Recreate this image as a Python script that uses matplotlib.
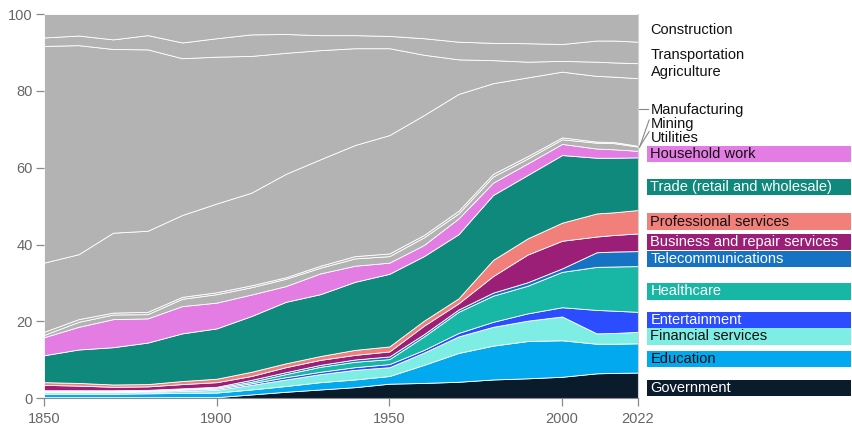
import matplotlib.pyplot as plt
from matplotlib.patches import Rectangle

years = [1850, 1860, 1870, 1880, 1890, 1900, 1910, 1920, 1930, 1940,
         1950, 1960, 1970, 1980, 1990, 2000, 2010, 2015, 2022]

# share of workers (%) per sector, bottom layer first
government = [0.3, 0.3, 0.3, 0.3, 0.3, 0.3, 1.0, 1.7, 2.3, 2.9, 3.8, 4.0, 4.3, 4.9, 5.2, 5.6, 6.5, 6.6, 6.7]
education = [0.9, 0.9, 0.9, 1.0, 1.1, 1.2, 1.3, 1.5, 1.9, 2.0, 2.0, 4.7, 7.5, 8.8, 9.7, 9.5, 7.7, 7.6, 7.6]
financial = [0.4, 0.4, 0.4, 0.4, 0.5, 0.7, 1.2, 1.7, 2.1, 2.5, 2.3, 3.2, 4.3, 4.9, 5.3, 6.2, 2.7, 2.8, 3.0]
entertainment = [0.2, 0.2, 0.2, 0.2, 0.3, 0.3, 0.4, 0.6, 0.6, 0.7, 0.8, 0.7, 0.9, 1.3, 1.9, 2.4, 6.1, 5.8, 5.2]
healthcare = [0.2, 0.2, 0.2, 0.2, 0.2, 0.3, 0.4, 0.8, 1.3, 1.4, 1.3, 3.5, 5.5, 6.8, 7.2, 9.2, 11.2, 11.5, 11.9]
telecom = [0.1, 0.1, 0.1, 0.1, 0.2, 0.2, 0.5, 0.5, 0.5, 0.6, 0.7, 0.6, 0.6, 0.8, 0.9, 0.9, 3.8, 3.9, 3.9]
business = [1.4, 1.2, 0.9, 0.9, 1.1, 1.2, 1.0, 1.3, 1.3, 1.2, 1.3, 2.2, 1.6, 4.3, 7.2, 7.2, 4.1, 4.3, 4.6]
professional = [0.7, 0.7, 0.6, 0.6, 0.8, 0.9, 1.1, 1.0, 1.0, 1.3, 1.3, 1.3, 1.3, 4.2, 4.2, 4.7, 6.0, 5.9, 6.1]
trade = [7.0, 8.7, 9.7, 10.8, 12.4, 13.1, 14.5, 16.0, 16.1, 17.7, 18.9, 16.8, 16.7, 16.9, 16.5, 17.6, 14.5, 14.2, 13.7]
household = [4.7, 5.9, 7.3, 6.3, 7.1, 6.7, 5.6, 4.1, 5.4, 4.2, 2.9, 2.9, 4.1, 3.2, 3.0, 2.9, 2.4, 2.2, 1.7]
utilities = [0.6, 1.3, 1.2, 1.1, 1.9, 2.2, 1.9, 1.9, 1.5, 1.9, 1.7, 2.0, 1.3, 1.6, 1.3, 1.2, 1.5, 1.6, 1.1]
mining = [0.8, 0.7, 0.5, 0.6, 0.5, 0.5, 0.5, 0.4, 0.5, 0.6, 0.7, 0.6, 0.7, 0.7, 0.6, 0.5, 0.3, 0.3, 0.2]
manufacturing = [18.0, 16.9, 20.8, 21.1, 21.3, 23.1, 24.1, 26.9, 27.7, 28.9, 30.8, 31.2, 30.4, 23.6, 20.5, 17.1, 17.1, 17.0, 17.6]
agriculture = [56.4, 54.4, 47.8, 47.2, 40.8, 38.2, 35.6, 31.5, 28.4, 25.2, 22.6, 15.7, 9.0, 6.0, 4.1, 2.8, 3.7, 3.7, 3.9]
transportation = [2.2, 2.5, 2.5, 3.7, 4.1, 4.8, 5.6, 4.9, 3.9, 3.4, 3.2, 4.3, 4.6, 4.5, 4.8, 4.4, 5.5, 5.7, 5.6]
construction = [6.1, 5.6, 6.6, 5.5, 7.4, 6.3, 5.3, 5.2, 5.5, 5.5, 5.7, 6.3, 7.2, 7.5, 7.6, 7.8, 6.9, 6.9, 7.2]

series = [government, education, financial, entertainment, healthcare, telecom,
          business, professional, trade, household, utilities, mining,
          manufacturing, agriculture, transportation, construction]

GRAY = "#b3b3b3"
colors = ["#0a1b2b", "#02a9ef", "#7eede4", "#2b4cff", "#18b7a5", "#1673c3",
          "#9c1f77", "#f17f7a", "#0f897c", "#e37de3",
          GRAY, GRAY, GRAY, GRAY, GRAY, GRAY]

# labels on the right: (text, y centre, box colour, text colour)
box_labels = [
    ("Household work", 63.5, "#e37de3", "#111111"),
    ("Trade (retail and wholesale)", 54.9, "#0f897c", "white"),
    ("Professional services", 46.0, "#f17f7a", "#111111"),
    ("Business and repair services", 40.6, "#9c1f77", "white"),
    ("Telecommunications", 36.3, "#1673c3", "white"),
    ("Healthcare", 27.8, "#18b7a5", "white"),
    ("Entertainment", 20.3, "#2b4cff", "white"),
    ("Financial services", 16.1, "#7eede4", "#111111"),
    ("Education", 10.3, "#02a9ef", "#111111"),
    ("Government", 2.7, "#0a1b2b", "white"),
]
gray_labels = [
    ("Construction", 95.8),
    ("Transportation", 89.3),
    ("Agriculture", 85.0),
    ("Manufacturing", 75.0),
    ("Mining", 71.3),
    ("Utilities", 67.8),
]

plt.rcParams["font.family"] = ["Liberation Sans", "DejaVu Sans"]

fig = plt.figure(figsize=(8.53, 4.30), dpi=100)
ax = fig.add_axes([0.0516, 0.0737, 0.6964, 0.8937])

ax.stackplot(years, series, colors=colors, edgecolor="white", linewidth=0.6)

ax.set_xlim(1850, 2022)
ax.set_ylim(0, 100)
ax.set_xticks([1850, 1900, 1950, 2000, 2022])
ax.set_yticks([0, 20, 40, 60, 80, 100])
ax.tick_params(colors="#8a8a8a", labelcolor="#666666", labelsize=10.5,
               length=6, width=0.9)
ax.tick_params(axis="y", pad=2)

for side in ["top", "left"]:
    ax.spines[side].set_visible(False)
ax.spines["bottom"].set_color("#8a8a8a")
ax.spines["right"].set_color("#d0d0d0")
ax.spines["right"].set_linewidth(0.8)

# labels on the right of the chart
box_h = 4.2
for text, y, bg, fg in box_labels:
    ax.add_patch(Rectangle((2024.6, y - box_h / 2), 59.2, box_h,
                           facecolor=bg, edgecolor="none", clip_on=False))
    ax.text(2025.6, y, text, color=fg, fontsize=10.5, va="center",
            ha="left", clip_on=False)

for text, y in gray_labels:
    ax.text(2025.6, y, text, color="#111111", fontsize=10.5, va="center",
            ha="left", clip_on=False)

# leader lines for the thin layers
ax.plot([2022.3, 2024.9], [75.3, 75.3], color="#888888", lw=0.8, clip_on=False)
ax.plot([2025.2, 2022.5], [72.4, 65.5], color="#888888", lw=0.8, clip_on=False)
ax.plot([2025.2, 2022.2], [69.4, 65.1], color="#888888", lw=0.8, clip_on=False)

plt.savefig("out.png", dpi=100)
plt.close()
